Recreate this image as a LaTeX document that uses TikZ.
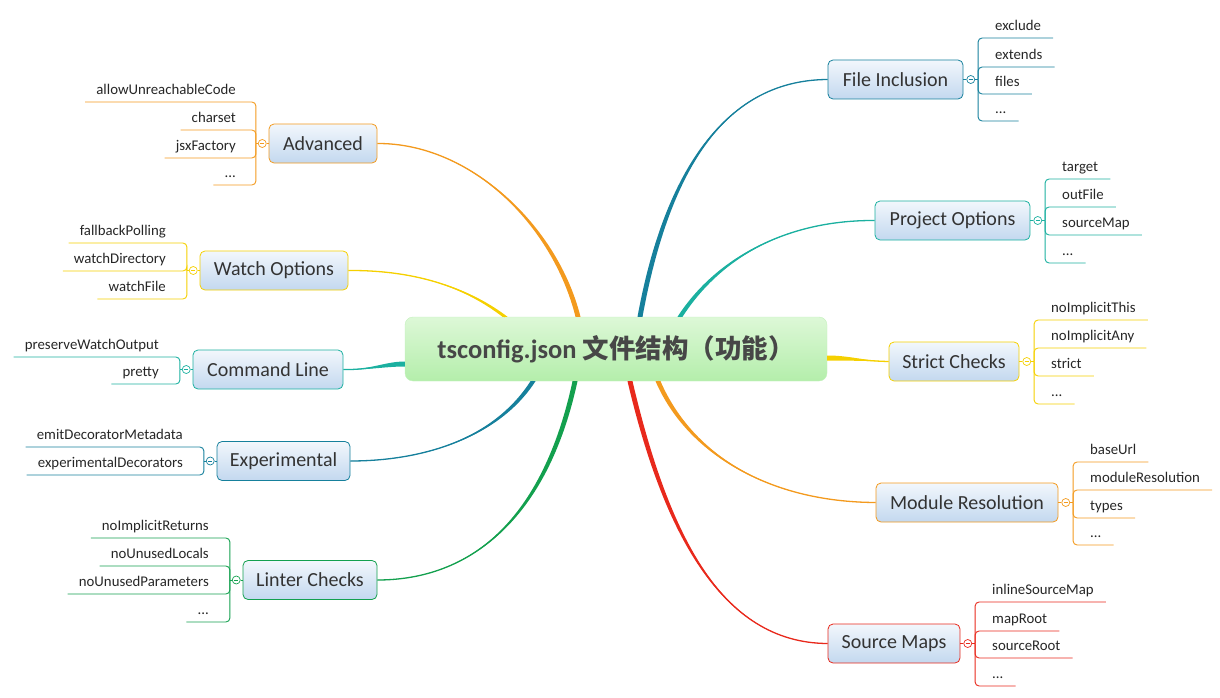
\documentclass[tikz,border=0pt]{standalone}
\usepackage{fontspec}
\setmainfont{Carlito}
\newfontfamily\cjk{Noto Sans CJK SC}
\usepackage{tikz}
\usetikzlibrary{positioning,calc}

\definecolor{cTeal}{HTML}{16809C}
\definecolor{cAqua}{HTML}{1BB0A0}
\definecolor{cGold}{HTML}{F5D000}
\definecolor{cOrange}{HTML}{F39A1E}
\definecolor{cRed}{HTML}{E8291C}
\definecolor{cGreen}{HTML}{13A04E}
\definecolor{boxTop}{HTML}{F2F7FC}
\definecolor{boxBot}{HTML}{C3D8EF}
\definecolor{mainTop}{HTML}{DDF8D7}
\definecolor{mainBot}{HTML}{B4EEAB}
\definecolor{txtGray}{HTML}{333333}

\tikzset{
  topic/.style={draw=#1, line width=0.8pt, rounded corners=5pt, top color=boxTop, bottom color=boxBot,
    minimum height=39pt, inner xsep=6pt, font=\fontsize{20}{22}\selectfont, text=txtGray},
  fold/.style={circle, draw=#1, fill=white, line width=0.7pt, minimum size=8pt, inner sep=0pt,
    path picture={\draw[#1, line width=0.7pt] ([xshift=-2.2pt]path picture bounding box.center) -- ([xshift=2.2pt]path picture bounding box.center);}},
  leafR/.style={anchor=south west, inner sep=0pt, inner ysep=3pt, text height=10pt, text depth=4pt,
    font=\fontsize{14.8}{16}\selectfont, text=black!85},
  leafL/.style={leafR, anchor=south east},
  twig/.style={draw=#1, line width=0.9pt, rounded corners=4pt},
}

% tapered branch: colour, start, control 1, control 2, end, half width at start
\newcommand{\branch}[6]{%
  \fill[#1] ($#2+(#6)$) .. controls ($#3+(#6)$) and #4 .. #5 .. controls #4 and ($#3-(#6)$) .. ($#2-(#6)$) -- cycle;
  \draw[#1, line width=1.3pt] #2 .. controls #3 and #4 .. #5;
}

\begin{document}
\begin{tikzpicture}[x=1pt, y=-1pt]
\useasboundingbox (0,0) rectangle (1220,698);
% centre
\node[rounded corners=8pt, top color=mainTop, bottom color=mainBot, draw=mainBot!80!white, minimum width=422pt, minimum height=64pt,
  font=\fontsize{26.5}{29}\selectfont\bfseries, text=black!72] (ts) at (616,349) {tsconfig.json {\cjk\bfseries 文件结构（功能）}};

% File Inclusion
\node[topic=cTeal, minimum width=135pt] (fi) at (895.5,79.5) {File Inclusion};
\node[fold=cTeal, right=3pt of fi] (fiO) {};
\draw[cTeal, line width=0.9pt] (fi.east) -- (fiO.west) (fiO.east) -- ++(3,0);
\node[leafR] (fi1) at (995,38) {exclude};
\node[leafR] (fi2) at (995,67) {extends};
\node[leafR] (fi3) at (995,94) {files};
\node[leafR] (fi4) at (995,121) {...};
\draw[twig=cTeal] ([xshift=3pt]fiO.east) |- ([xshift=12pt]fi1.south east);
\draw[twig=cTeal] ([xshift=3pt]fiO.east) |- ([xshift=12pt]fi2.south east);
\draw[twig=cTeal] ([xshift=3pt]fiO.east) |- ([xshift=12pt]fi3.south east);
\draw[twig=cTeal] ([xshift=3pt]fiO.east) |- ([xshift=12pt]fi4.south east);

% Project Options
\node[topic=cAqua, minimum width=155pt] (po) at (952.5,220.5) {Project Options};
\node[fold=cAqua, right=3pt of po] (poO) {};
\draw[cAqua, line width=0.9pt] (po.east) -- (poO.west) (poO.east) -- ++(3,0);
\node[leafR] (po1) at (1062,179) {target};
\node[leafR] (po2) at (1062,207) {outFile};
\node[leafR] (po3) at (1062,235) {sourceMap};
\node[leafR] (po4) at (1062,263) {...};
\draw[twig=cAqua] ([xshift=3pt]poO.east) |- ([xshift=12pt]po1.south east);
\draw[twig=cAqua] ([xshift=3pt]poO.east) |- ([xshift=12pt]po2.south east);
\draw[twig=cAqua] ([xshift=3pt]poO.east) |- ([xshift=12pt]po3.south east);
\draw[twig=cAqua] ([xshift=3pt]poO.east) |- ([xshift=12pt]po4.south east);

% Strict Checks
\node[topic=cGold, minimum width=130pt] (sc) at (954,361.5) {Strict Checks};
\node[fold=cGold, right=3pt of sc] (scO) {};
\draw[cGold, line width=0.9pt] (sc.east) -- (scO.west) (scO.east) -- ++(3,0);
\node[leafR] (sc1) at (1051,320) {noImplicitThis};
\node[leafR] (sc2) at (1051,348) {noImplicitAny};
\node[leafR] (sc3) at (1051,376) {strict};
\node[leafR] (sc4) at (1051,404) {...};
\draw[twig=cGold] ([xshift=3pt]scO.east) |- ([xshift=12pt]sc1.south east);
\draw[twig=cGold] ([xshift=3pt]scO.east) |- ([xshift=12pt]sc2.south east);
\draw[twig=cGold] ([xshift=3pt]scO.east) |- ([xshift=12pt]sc3.south east);
\draw[twig=cGold] ([xshift=3pt]scO.east) |- ([xshift=12pt]sc4.south east);

% Module Resolution
\node[topic=cOrange, minimum width=182pt] (mr) at (967,502.5) {Module Resolution};
\node[fold=cOrange, right=3pt of mr] (mrO) {};
\draw[cOrange, line width=0.9pt] (mr.east) -- (mrO.west) (mrO.east) -- ++(3,0);
\node[leafR] (mr1) at (1090,462) {baseUrl};
\node[leafR] (mr2) at (1090,490) {moduleResolution};
\node[leafR] (mr3) at (1090,518) {types};
\node[leafR] (mr4) at (1090,545) {...};
\draw[twig=cOrange] ([xshift=3pt]mrO.east) |- ([xshift=12pt]mr1.south east);
\draw[twig=cOrange] ([xshift=3pt]mrO.east) |- ([xshift=12pt]mr2.south east);
\draw[twig=cOrange] ([xshift=3pt]mrO.east) |- ([xshift=12pt]mr3.south east);
\draw[twig=cOrange] ([xshift=3pt]mrO.east) |- ([xshift=12pt]mr4.south east);

% Source Maps
\node[topic=cRed, minimum width=132pt] (sm) at (894,643.5) {Source Maps};
\node[fold=cRed, right=3pt of sm] (smO) {};
\draw[cRed, line width=0.9pt] (sm.east) -- (smO.west) (smO.east) -- ++(3,0);
\node[leafR] (sm1) at (992,602) {inlineSourceMap};
\node[leafR] (sm2) at (992,631) {mapRoot};
\node[leafR] (sm3) at (992,658) {sourceRoot};
\node[leafR] (sm4) at (992,686) {...};
\draw[twig=cRed] ([xshift=3pt]smO.east) |- ([xshift=12pt]sm1.south east);
\draw[twig=cRed] ([xshift=3pt]smO.east) |- ([xshift=12pt]sm2.south east);
\draw[twig=cRed] ([xshift=3pt]smO.east) |- ([xshift=12pt]sm3.south east);
\draw[twig=cRed] ([xshift=3pt]smO.east) |- ([xshift=12pt]sm4.south east);

% Advanced
\node[topic=cOrange, minimum width=108pt] (ad) at (323,143.5) {Advanced};
\node[fold=cOrange, left=2pt of ad] (adO) {};
\draw[cOrange, line width=0.9pt] (ad.west) -- (adO.east) (adO.west) -- ++(-2,0);
\node[leafL] (ad1) at (236,102) {allowUnreachableCode};
\node[leafL] (ad2) at (236,130) {charset};
\node[leafL] (ad3) at (236,158) {jsxFactory};
\node[leafL] (ad4) at (236,185) {...};
\draw[twig=cOrange] ([xshift=-2pt]adO.west) |- ([xshift=-11pt]ad1.south west);
\draw[twig=cOrange] ([xshift=-2pt]adO.west) |- ([xshift=-11pt]ad2.south west);
\draw[twig=cOrange] ([xshift=-2pt]adO.west) |- ([xshift=-11pt]ad3.south west);
\draw[twig=cOrange] ([xshift=-2pt]adO.west) |- ([xshift=-11pt]ad4.south west);

% Watch Options
\node[topic=cGold, minimum width=148pt] (wo) at (274,270.5) {Watch Options};
\node[fold=cGold, left=2pt of wo] (woO) {};
\draw[cGold, line width=0.9pt] (wo.west) -- (woO.east) (woO.west) -- ++(-2,0);
\node[leafL] (wo1) at (166,243) {fallbackPolling};
\node[leafL] (wo2) at (166,271) {watchDirectory};
\node[leafL] (wo3) at (166,299) {watchFile};
\draw[twig=cGold] ([xshift=-2pt]woO.west) |- ([xshift=-11pt]wo1.south west);
\draw[twig=cGold] ([xshift=-2pt]woO.west) |- ([xshift=-11pt]wo2.south west);
\draw[twig=cGold] ([xshift=-2pt]woO.west) |- ([xshift=-11pt]wo3.south west);

% Command Line
\node[topic=cAqua, minimum width=150pt] (cl) at (268,369.5) {Command Line};
\node[fold=cAqua, left=2pt of cl] (clO) {};
\draw[cAqua, line width=0.9pt] (cl.west) -- (clO.east) (clO.west) -- ++(-2,0);
\node[leafL] (cl1) at (159,357) {preserveWatchOutput};
\node[leafL] (cl2) at (159,384) {pretty};
\draw[twig=cAqua] ([xshift=-2pt]clO.west) |- ([xshift=-11pt]cl1.south west);
\draw[twig=cAqua] ([xshift=-2pt]clO.west) |- ([xshift=-11pt]cl2.south west);

% Experimental
\node[topic=cTeal, minimum width=133pt] (ex) at (283.5,461) {Experimental};
\node[fold=cTeal, left=2pt of ex] (exO) {};
\draw[cTeal, line width=0.9pt] (ex.west) -- (exO.east) (exO.west) -- ++(-2,0);
\node[leafL] (ex1) at (183,447) {emitDecoratorMetadata};
\node[leafL] (ex2) at (183,475) {experimentalDecorators};
\draw[twig=cTeal] ([xshift=-2pt]exO.west) |- ([xshift=-11pt]ex1.south west);
\draw[twig=cTeal] ([xshift=-2pt]exO.west) |- ([xshift=-11pt]ex2.south west);

% Linter Checks
\node[topic=cGreen, minimum width=134pt] (lc) at (310,580) {Linter Checks};
\node[fold=cGreen, left=2pt of lc] (lcO) {};
\draw[cGreen, line width=0.9pt] (lc.west) -- (lcO.east) (lcO.west) -- ++(-2,0);
\node[leafL] (lc1) at (209,538) {noImplicitReturns};
\node[leafL] (lc2) at (209,566) {noUnusedLocals};
\node[leafL] (lc3) at (209,594) {noUnusedParameters};
\node[leafL] (lc4) at (209,622) {...};
\draw[twig=cGreen] ([xshift=-2pt]lcO.west) |- ([xshift=-11pt]lc1.south west);
\draw[twig=cGreen] ([xshift=-2pt]lcO.west) |- ([xshift=-11pt]lc2.south west);
\draw[twig=cGreen] ([xshift=-2pt]lcO.west) |- ([xshift=-11pt]lc3.south west);
\draw[twig=cGreen] ([xshift=-2pt]lcO.west) |- ([xshift=-11pt]lc4.south west);

% branches from the centre
\branch{cOrange}{([xshift=-38pt]ts.north)}{(555,225)}{(470,143)}{(ad.east)}{2.5,0}
\branch{cGold}{([xshift=-111pt]ts.north)}{(470,290)}{(420,270)}{(wo.east)}{2.5,0}
\branch{cAqua}{([yshift=-15pt]ts.west)}{(385,364)}{(370,370)}{(cl.east)}{0,2.5}
\branch{cTeal}{([xshift=-83pt]ts.south)}{(495,440)}{(420,461)}{(ex.east)}{2.5,0}
\branch{cGreen}{([xshift=-41pt]ts.south)}{(545,520)}{(470,580)}{(lc.east)}{2.5,0}
\branch{cTeal}{([xshift=24pt]ts.north)}{(665,180)}{(720,80)}{(fi.west)}{2.5,0}
\branch{cAqua}{([xshift=64pt]ts.north)}{(720,255)}{(790,220)}{(po.west)}{2.5,0}
\branch{cGold}{([yshift=-9pt]ts.east)}{(850,358)}{(865,361)}{(sc.west)}{0,2.5}
\branch{cOrange}{([xshift=42pt]ts.south)}{(690,455)}{(770,502)}{(mr.west)}{2.5,0}
\branch{cRed}{([xshift=14pt]ts.south)}{(665,530)}{(720,643)}{(sm.west)}{2.5,0}
\end{tikzpicture}
\end{document}
